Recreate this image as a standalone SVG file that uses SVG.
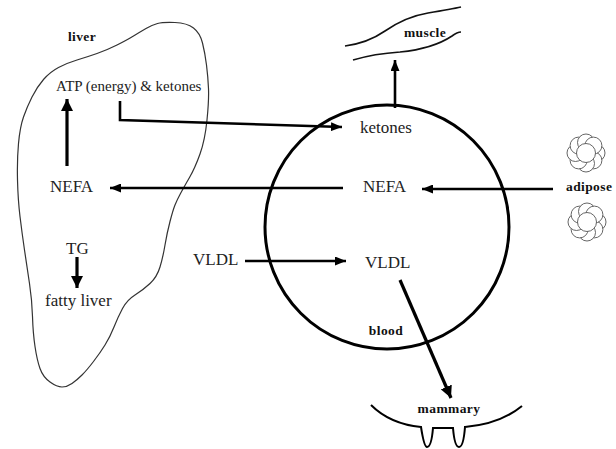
<svg xmlns="http://www.w3.org/2000/svg" width="616" height="449" viewBox="0 0 616 449">
  <style>
    .lbl { font-family: "Liberation Serif", "Times New Roman", serif; fill: #222; }
    .big { font-size: 17px; }
    .mid { font-size: 15px; }
    .tag { font-family: "Liberation Serif", "Times New Roman", serif; font-size: 13.5px; font-weight: bold; fill: #111; letter-spacing: 0.4px; }
    .arrow { stroke: #000; stroke-width: 2.6; fill: none; marker-end: url(#ah); }
    .arrow-big { stroke: #000; stroke-width: 3.2; fill: none; marker-end: url(#ahb); }
    .outline { stroke: #333; stroke-width: 1.2; fill: none; stroke-linejoin: round; }
    .cell { stroke: #555; stroke-width: 0.9; fill: #fff; }
  </style>
  <defs>
    <marker id="ah" viewBox="0 0 11 9" refX="11" refY="4.5" markerWidth="11" markerHeight="9" orient="auto" markerUnits="userSpaceOnUse">
      <path d="M0,0 L11,4.5 L0,9 Z" fill="#000"/>
    </marker>
    <marker id="ahb" viewBox="0 0 12 12" refX="12" refY="6" markerWidth="12" markerHeight="12" orient="auto" markerUnits="userSpaceOnUse">
      <path d="M0,0 L12,6 L0,12 Z" fill="#000"/>
    </marker>
    <!-- a small cluster of fat cells -->
    <g id="fatcluster">
      <circle class="cell" cx="10.5" cy="0" r="8.5"/>
      <circle class="cell" cx="7.4" cy="7.4" r="8.5"/>
      <circle class="cell" cx="0" cy="10.5" r="8.5"/>
      <circle class="cell" cx="-7.4" cy="7.4" r="8.5"/>
      <circle class="cell" cx="-10.5" cy="0" r="8.5"/>
      <circle class="cell" cx="-7.4" cy="-7.4" r="8.5"/>
      <circle class="cell" cx="0" cy="-10.5" r="8.5"/>
      <circle class="cell" cx="7.4" cy="-7.4" r="8.5"/>
      <circle class="cell" cx="0" cy="0" r="9.5"/>
    </g>
  </defs>

  <!-- liver -->
  <g id="liver">
    <path class="outline" d="M157.5,23.5 Q163,22 175,22.5 Q187,23 193.5,28 Q200,33 202.5,43 Q205,53 206.5,65 Q208,77 208.5,88.5 Q209,100 207,120 Q205,140 200,154 Q195,168 189.5,177.5 Q184,187 180.5,193.5 Q177,200 175,205 Q173,210 170,221.5 Q167,233 165,245 Q163,257 160,267 Q157,277 150,283.5 Q143,290 135,295 Q127,300 122.5,308.5 Q118,317 114,327 Q110,337 105,345 Q100,353 93.5,361.5 Q87,370 82,375 Q77,380 72,383.5 Q67,387 62,387 Q57,387 50,382 Q43,377 40,368.5 Q37,360 35,346.5 Q33,333 32.5,316.5 Q32,300 29.5,283.5 Q27,267 24.5,250 Q22,233 20,216.5 Q18,200 17.5,180 Q17,160 18.5,143.5 Q20,127 23.5,117 Q27,107 32,97 Q37,87 43.5,79.5 Q50,72 58.5,67.5 Q67,63 77,60 Q87,57 97,53.5 Q107,50 117,45 Q127,40 133.5,36 Q140,32 146,28.5 Q152,25 157.5,23.5 Z"/>
    <text class="tag" x="82" y="41" text-anchor="middle">liver</text>
  </g>
  <g id="liver-atp">
    <text class="lbl mid" x="56" y="91">ATP (energy) &amp; ketones</text>
  </g>
  <g id="liver-nefa">
    <text class="lbl big" x="50" y="192">NEFA</text>
  </g>
  <g id="liver-tg">
    <text class="lbl big" x="66" y="254">TG</text>
  </g>
  <g id="fatty-liver">
    <text class="lbl big" x="45" y="306">fatty liver</text>
  </g>
  <g id="vldl-source">
    <text class="lbl big" x="193" y="265">VLDL</text>
  </g>

  <!-- blood pool -->
  <g id="blood">
    <circle cx="387" cy="227" r="122" fill="none" stroke="#000" stroke-width="3"/>
    <text class="tag" x="386" y="335" text-anchor="middle">blood</text>
  </g>
  <g id="blood-ketones">
    <text class="lbl big" x="360" y="133">ketones</text>
  </g>
  <g id="blood-nefa">
    <text class="lbl big" x="363" y="192">NEFA</text>
  </g>
  <g id="blood-vldl">
    <text class="lbl big" x="365" y="268">VLDL</text>
  </g>

  <!-- muscle -->
  <g id="muscle">
    <path d="M345,46 C360,44 372,40 385,31 C398,22 410,16 428,13 C440,11 452,9 461,7" fill="none" stroke="#111" stroke-width="1.6"/>
    <path d="M353,60 C370,55 385,53 400,52 C420,50 440,44 452,36 C456,33 459,32 461,32" fill="none" stroke="#111" stroke-width="1.6"/>
    <text class="tag" x="425" y="37" text-anchor="middle">muscle</text>
  </g>

  <!-- adipose -->
  <g id="adipose">
    <use href="#fatcluster" x="586" y="153"/>
    <use href="#fatcluster" x="587" y="222"/>
    <text class="tag" x="566" y="191">adipose</text>
  </g>

  <!-- mammary gland -->
  <g id="mammary">
    <path d="M371,405 Q390,424 421,427 C423,440 425,447 427,447 C430,447 432,440 433,428 L453,428 C454,440 456,447 459,447 C462,447 464,440 465,427 Q500,424 522,406" fill="none" stroke="#000" stroke-width="2"/>
    <text class="tag" x="449" y="413" text-anchor="middle">mammary</text>
  </g>

  <!-- connectors -->
  <g id="connectors">
    <path class="arrow" d="M120,101 L120,120 L342,127"/>
    <line class="arrow" x1="343" y1="188" x2="110" y2="188"/>
    <line class="arrow" x1="553" y1="189" x2="422" y2="189"/>
    <line class="arrow" x1="245" y1="261" x2="346" y2="261"/>
    <line class="arrow-big" x1="67" y1="166" x2="67" y2="99"/>
    <line class="arrow-big" x1="77" y1="257" x2="77" y2="288"/>
    <line class="arrow" x1="395" y1="108" x2="395" y2="60"/>
    <line class="arrow-big" x1="400" y1="280" x2="451" y2="398"/>
  </g>
</svg>
